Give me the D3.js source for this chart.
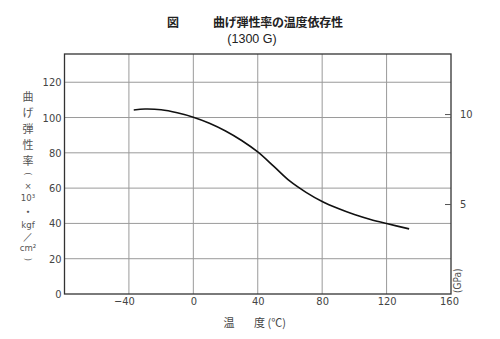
<!DOCTYPE html>
<html>
<head>
<meta charset="utf-8">
<script src="https://cdn.jsdelivr.net/npm/d3@7"></script>
<style>
  body { margin: 0; background: #fff; }
  svg { display: block; }
</style>
</head>
<body>
<div id="chart"></div>
<script>
// data
const temps = [-37, -30, -20, -10, 0, 10, 20, 30, 40, 50, 60, 70, 80, 90, 100, 110, 120, 134]
const modulus = [104.3, 104.8, 104.4, 102.7, 100.2, 96.8, 92.4, 87, 80.5, 72.3, 63.9, 57.6, 52.4, 48.4, 45, 42.2, 39.9, 36.9]

const xTicks = [-40, 0, 40, 80, 120, 160]
const yTicks = [0, 20, 40, 60, 80, 100, 120]
const gpaTicks = [5, 10]
const yTitleParts = ['曲', 'げ', '弾', '性', '率', '(', '×', '10³', '・', 'kgf', '／', 'cm²', ')']

const w = 500
const h = 339
const plot = { left: 64.5, right: 451, top: 54, bottom: 294 }
const kgfPerGPa = 10.197

const svg = d3.select('#chart')
  .append('svg')
  .attr('width', w)
  .attr('height', h)

const xScale = d3.scaleLinear()
  .domain([-80, 160])
  .range([plot.left, plot.right])

const yScale = d3.scaleLinear()
  .domain([0, 136])
  .range([plot.bottom, plot.top])

const gpaScale = d3.scaleLinear()
  .domain([0, 136 / kgfPerGPa])
  .range([plot.bottom, plot.top])

const numFont = '"Liberation Sans Narrow", "DejaVu Sans Condensed", sans-serif'
const jpFont = '"Noto Sans CJK JP", sans-serif'

// grid
svg.append('g')
  .selectAll('line')
  .data(yTicks.filter(d => d > 0))
  .enter()
  .append('line')
  .attr('x1', plot.left)
  .attr('x2', plot.right)
  .attr('y1', d => yScale(d))
  .attr('y2', d => yScale(d))
  .attr('stroke', '#9a9a9a')
  .attr('stroke-width', 1)

svg.append('g')
  .selectAll('line')
  .data(xTicks.filter(d => d < 160))
  .enter()
  .append('line')
  .attr('x1', d => xScale(d))
  .attr('x2', d => xScale(d))
  .attr('y1', plot.top)
  .attr('y2', plot.bottom)
  .attr('stroke', '#9a9a9a')
  .attr('stroke-width', 1)

// frame
svg.append('rect')
  .attr('x', plot.left)
  .attr('y', plot.top)
  .attr('width', plot.right - plot.left)
  .attr('height', plot.bottom - plot.top)
  .attr('fill', 'none')
  .attr('stroke', '#333')
  .attr('stroke-width', 1.3)

// left axis labels
const yAxis = d3.axisLeft(yScale)
  .tickValues(yTicks)
  .tickSize(0)
  .tickPadding(3)

const gy = svg.append('g')
  .attr('transform', 'translate(' + plot.left + ',0)')
  .call(yAxis)
gy.select('.domain').remove()
gy.selectAll('text')
  .attr('font-family', numFont)
  .attr('font-size', 11)
  .attr('fill', '#444')

// bottom axis labels
const xAxis = d3.axisBottom(xScale)
  .tickValues(xTicks)
  .tickSize(0)
  .tickPadding(3)
  .tickFormat(d => d < 0 ? '−' + Math.abs(d) : d)

const gx = svg.append('g')
  .attr('transform', 'translate(0,' + plot.bottom + ')')
  .call(xAxis)
gx.select('.domain').remove()
gx.selectAll('text')
  .attr('font-family', numFont)
  .attr('font-size', 11)
  .attr('fill', '#444')
  .attr('dx', d => d < 0 ? -5 : (d === 160 ? -2 : 0))

// right GPa axis, ticks inward
const gpaAxis = d3.axisRight(gpaScale)
  .tickValues(gpaTicks)
  .tickSizeInner(-6)
  .tickSizeOuter(0)
  .tickPadding(9)

const gg = svg.append('g')
  .attr('transform', 'translate(' + plot.right + ',0)')
  .call(gpaAxis)
gg.select('.domain').remove()
gg.selectAll('line').attr('stroke', '#555')
gg.selectAll('text')
  .attr('font-family', numFont)
  .attr('font-size', 11)
  .attr('fill', '#444')

svg.append('text')
  .attr('transform', 'translate(' + (plot.right + 10) + ',' + (plot.bottom - 1) + ') rotate(-90)')
  .attr('font-family', numFont)
  .attr('font-size', 10)
  .attr('fill', '#555')
  .text('(GPa)')

// curve
const line = d3.line()
  .x((d, i) => xScale(temps[i]))
  .y(d => yScale(d))
  .curve(d3.curveCatmullRom.alpha(0.5))

svg.append('path')
  .datum(modulus)
  .attr('d', line)
  .attr('fill', 'none')
  .attr('stroke', '#111')
  .attr('stroke-width', 1.6)

// title
svg.append('text')
  .attr('x', 173)
  .attr('y', 27)
  .attr('text-anchor', 'middle')
  .attr('font-family', jpFont)
  .attr('font-size', 12)
  .attr('font-weight', 'bold')
  .attr('fill', '#222')
  .text('図')

svg.append('text')
  .attr('x', 213)
  .attr('y', 27)
  .attr('font-family', jpFont)
  .attr('font-size', 12)
  .attr('font-weight', 'bold')
  .attr('fill', '#222')
  .attr('textLength', 130)
  .text('曲げ弾性率の温度依存性')

svg.append('text')
  .attr('x', 252)
  .attr('y', 43)
  .attr('text-anchor', 'middle')
  .attr('font-family', '"Liberation Sans", sans-serif')
  .attr('font-size', 12.5)
  .attr('fill', '#222')
  .text('(1300 G)')

// x axis title
svg.append('text')
  .attr('x', 229)
  .attr('y', 327)
  .attr('text-anchor', 'middle')
  .attr('font-family', jpFont)
  .attr('font-size', 11)
  .attr('fill', '#444')
  .text('温')

svg.append('text')
  .attr('x', 254)
  .attr('y', 327)
  .attr('font-family', jpFont)
  .attr('font-size', 11)
  .attr('fill', '#444')
  .text('度 (℃)')

// vertical y title, brackets turned to vertical form
const isWide = p => /[\u3040-\u9fff]/.test(p)
const partH = p => isWide(p) ? 16 : 11.6
let cy = 96
yTitleParts.forEach((p, i) => {
  const bracket = p === '(' || p === ')'
  svg.append('text')
    .attr('transform', 'translate(28,' + cy + ')' + (bracket ? ' rotate(90)' : ''))
    .attr('text-anchor', 'middle')
    .attr('dominant-baseline', 'central')
    .attr('font-family', isWide(p) ? jpFont : numFont)
    .attr('font-size', isWide(p) ? 11 : 9.5)
    .attr('fill', '#555')
    .text(p)
  const next = yTitleParts[i + 1]
  if (next) cy += (partH(p) + partH(next)) / 2
})
</script>
</body>
</html>
